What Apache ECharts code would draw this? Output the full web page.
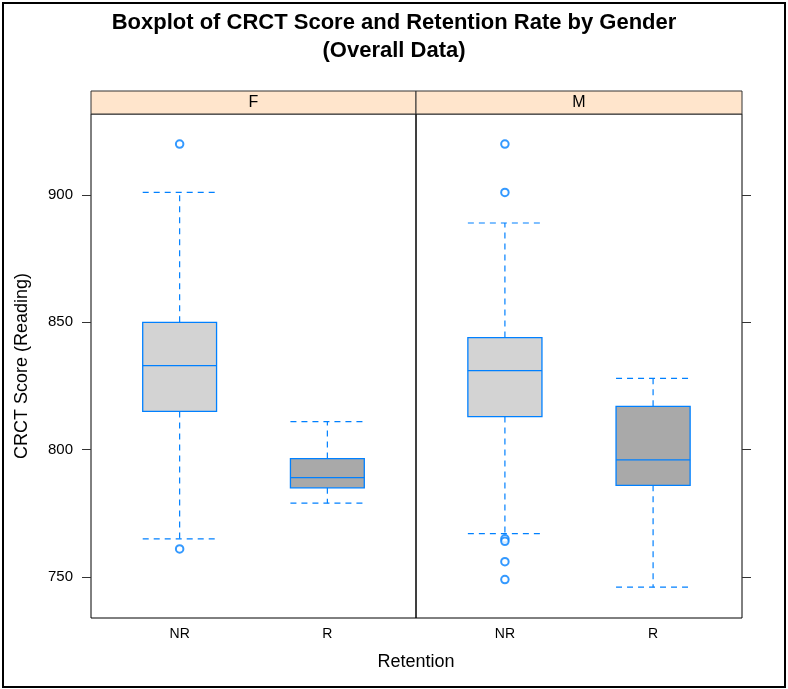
<!DOCTYPE html>
<html>
<head>
<meta charset="utf-8">
<script src="https://cdn.jsdelivr.net/npm/echarts@6/dist/echarts.min.js"></script>
<style>
  html, body { margin: 0; padding: 0; background: #fff; }
  #chart { width: 788px; height: 689px; }
</style>
</head>
<body>
<div id="chart"></div>
<script>
// Panels (one per gender) and the two retention groups inside each panel
const genders = ['F', 'M'];
const retention = ['NR', 'R'];

// Five-number summaries per group: [lower whisker, Q1, median, Q3, upper whisker]
const statsF = [
  [765, 815, 833, 850, 901],
  [779, 785, 789, 796.5, 811]
];
const statsM = [
  [767, 813, 831, 844, 889],
  [746, 786, 796, 817, 828]
];

// Outlying scores: [group position, score]
const outliersF = [[1, 761], [1, 920]];
const outliersM = [[1, 920], [1, 901], [1, 765], [1, 764], [1, 756], [1, 749]];

// Y-axis ticks
const yTicks = [750, 800, 850, 900];

const BLUE = '#0080ff';
const boxFill = ['#d3d3d3', '#a9a9a9'];
const FONT = '"Liberation Sans", Arial, sans-serif';

function renderBox(params, api) {
  const x = api.value(0);
  const lo = api.coord([x, api.value(1)]);
  const q1 = api.coord([x, api.value(2)]);
  const md = api.coord([x, api.value(3)]);
  const q3 = api.coord([x, api.value(4)]);
  const hi = api.coord([x, api.value(5)]);
  const half = api.size([0.5, 0])[0] / 2;
  const cx = md[0];
  const dash = { stroke: BLUE, lineWidth: 1.2, lineDash: [6, 5], fill: null };
  const solid = { stroke: BLUE, lineWidth: 1.3, fill: null };
  return {
    type: 'group',
    children: [
      { type: 'line', shape: { x1: cx, y1: q3[1], x2: cx, y2: hi[1] }, style: dash },
      { type: 'line', shape: { x1: cx - half, y1: hi[1], x2: cx + half, y2: hi[1] }, style: dash },
      { type: 'line', shape: { x1: cx, y1: q1[1], x2: cx, y2: lo[1] }, style: dash },
      { type: 'line', shape: { x1: cx - half, y1: lo[1], x2: cx + half, y2: lo[1] }, style: dash },
      {
        type: 'rect',
        shape: { x: cx - half, y: q3[1], width: half * 2, height: q1[1] - q3[1] },
        style: { fill: boxFill[x - 1], stroke: BLUE, lineWidth: 1.3 }
      },
      { type: 'line', shape: { x1: cx - half, y1: md[1], x2: cx + half, y2: md[1] }, style: solid }
    ]
  };
}

function boxData(stats) {
  return stats.map((s, i) => [i + 1].concat(s));
}

const panelTop = 114, panelBottom = 618, panelLeft = 91, panelMid = 416, panelRight = 742;

function xAxisFor(idx) {
  return {
    type: 'value', gridIndex: idx, min: 0.4, max: 2.6,
    axisLine: { show: false }, axisTick: { show: false }, splitLine: { show: false },
    axisLabel: {
      customValues: [1, 2],
      formatter: v => retention[Math.round(v) - 1],
      color: '#000', fontSize: 14, fontFamily: FONT, margin: 9
    }
  };
}

function yAxisFor(idx, pos) {
  return {
    type: 'value', gridIndex: idx, position: pos, min: 733.9, max: 931.8,
    axisLine: { show: false },
    splitLine: { show: false },
    axisTick: { show: true, inside: false, length: 9, customValues: yTicks, lineStyle: { color: '#333', width: 1 } },
    axisLabel: {
      show: pos === 'left', customValues: yTicks,
      color: '#000', fontSize: 15, fontFamily: FONT, margin: 18
    },
    name: pos === 'left' ? 'CRCT Score (Reading)' : '',
    nameLocation: 'middle', nameGap: 60,
    nameTextStyle: { fontSize: 18, fontFamily: FONT, color: '#000' }
  };
}

const chart = echarts.init(document.getElementById('chart'), null, { renderer: 'canvas' });

chart.setOption({
  animation: false,
  backgroundColor: '#fff',
  title: {
    text: 'Boxplot of CRCT Score and Retention Rate by Gender\n(Overall Data)',
    left: 'center', top: 4,
    textStyle: { fontSize: 22, fontWeight: 'bold', fontFamily: FONT, color: '#000', lineHeight: 28 }
  },
  grid: [
    { left: panelLeft, top: panelTop, width: panelMid - panelLeft, height: panelBottom - panelTop,
      show: true, borderColor: '#000', borderWidth: 1, backgroundColor: 'transparent' },
    { left: panelMid, top: panelTop, width: panelRight - panelMid, height: panelBottom - panelTop,
      show: true, borderColor: '#000', borderWidth: 1, backgroundColor: 'transparent' }
  ],
  xAxis: [xAxisFor(0), xAxisFor(1)],
  yAxis: [yAxisFor(0, 'left'), yAxisFor(1, 'right')],
  series: [
    { type: 'custom', xAxisIndex: 0, yAxisIndex: 0, renderItem: renderBox, data: boxData(statsF) },
    { type: 'custom', xAxisIndex: 1, yAxisIndex: 1, renderItem: renderBox, data: boxData(statsM) },
    { type: 'scatter', xAxisIndex: 0, yAxisIndex: 0, data: outliersF, symbol: 'emptyCircle', symbolSize: 7.5,
      itemStyle: { color: BLUE, borderColor: BLUE, borderWidth: 1.5 } },
    { type: 'scatter', xAxisIndex: 1, yAxisIndex: 1, data: outliersM, symbol: 'emptyCircle', symbolSize: 7.5,
      itemStyle: { color: BLUE, borderColor: BLUE, borderWidth: 1.5 } }
  ],
  graphic: [
    // outer frame
    { type: 'rect', shape: { x: 3, y: 3, width: 782, height: 684 },
      style: { fill: null, stroke: '#000', lineWidth: 2 }, silent: true },
    // strips
    { type: 'rect', shape: { x: panelLeft, y: 91, width: panelMid - panelLeft, height: panelTop - 91 },
      style: { fill: '#ffe5cc', stroke: '#333', lineWidth: 1 }, silent: true },
    { type: 'rect', shape: { x: panelMid, y: 91, width: panelRight - panelMid, height: panelTop - 91 },
      style: { fill: '#ffe5cc', stroke: '#333', lineWidth: 1 }, silent: true },
    { type: 'text', x: (panelLeft + panelMid) / 2, y: 102.5,
      style: { text: genders[0], fontSize: 16, fontFamily: FONT, fill: '#000', align: 'center', verticalAlign: 'middle' } },
    { type: 'text', x: (panelMid + panelRight) / 2, y: 102.5,
      style: { text: genders[1], fontSize: 16, fontFamily: FONT, fill: '#000', align: 'center', verticalAlign: 'middle' } },
    // shared x-axis title
    { type: 'text', x: panelMid, y: 662,
      style: { text: 'Retention', fontSize: 18, fontFamily: FONT, fill: '#000', align: 'center', verticalAlign: 'middle' } }
  ]
});
</script>
</body>
</html>
